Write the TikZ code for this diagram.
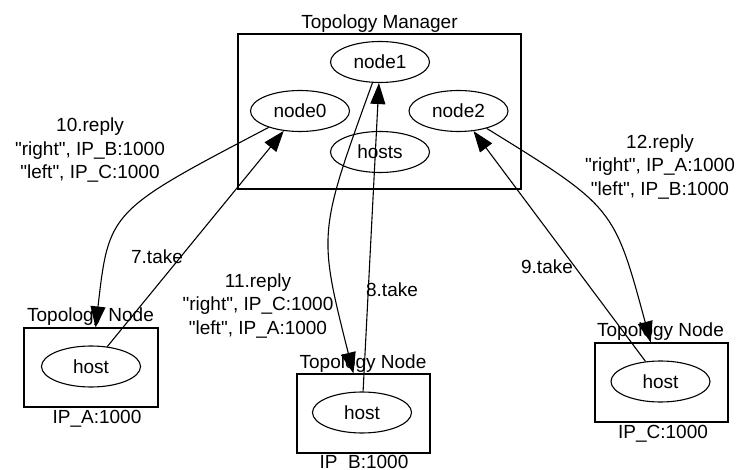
\documentclass[tikz,border=0pt]{standalone}
\usepackage{fontspec}
\setmainfont{Liberation Sans}
\usetikzlibrary{shapes.geometric,arrows.meta}
\newcommand{\qq}{\textquotedbl}
\begin{document}
\begin{tikzpicture}[x=1pt,y=-1pt,
  every node/.style={font=\fontsize{19}{23.5}\selectfont, inner sep=0pt},
  ell/.style={draw, ellipse, line width=1.1pt, minimum width=99pt, minimum height=41pt, text height=13.6pt, text depth=0pt},
  cluster/.style={draw, rectangle, line width=1.1pt},
  lbl/.style={anchor=base},
  mlbl/.style={align=center},
  arr/.style={line width=1.1pt, -{Triangle[length=21pt,width=15pt]}}
]
\useasboundingbox (0,0) rectangle (739,470);

% Topology Manager cluster
\node[cluster, minimum width=283pt, minimum height=155pt] (mgr) at (379.5,111.5) {};
\node[lbl] (mgrlbl) at (379.5,28.6) {Topology Manager};
\node[ell] (node1) at (380,62) {node1};
\node[ell] (node0) at (300,111) {node0};
\node[ell] (hosts) at (380,152) {hosts};
\node[ell] (node2) at (458.5,111) {node2};

% Topology Node A
\node[cluster, minimum width=134pt, minimum height=79pt] (boxA) at (91,367.5) {};
\node[lbl] (boxAlbl) at (90.5,322) {Topology Node};
\node[ell] (hostA) at (91,366.5) {host};
\node[lbl] (ipA) at (97,423) {IP\_A:1000};

% Topology Node B
\node[cluster, minimum width=133pt, minimum height=79pt] (boxB) at (363.5,413.5) {};
\node[lbl] (boxBlbl) at (363,368) {Topology Node};
\node[ell] (hostB) at (362,412.5) {host};
\node[lbl] (ipB) at (364,468.6) {IP\_B:1000};

% Topology Node C
\node[cluster, minimum width=133pt, minimum height=79pt] (boxC) at (661.5,382.5) {};
\node[lbl] (boxClbl) at (660.5,337) {Topology Node};
\node[ell] (hostC) at (660.5,381.5) {host};
\node[lbl] (ipC) at (663,438) {IP\_C:1000};

% edges: take
\draw[arr] (hostA) -- (node0);
\draw[arr] (hostB) -- (node1);
\draw[arr] (hostC) -- (node2);
\node[lbl] (l7) at (157,264) {7.take};
\node[lbl] (l8) at (392,297) {8.take};
\node[lbl] (l9) at (547,274) {9.take};

% edges: reply
\draw[arr] (node0) .. controls (109,211) .. (boxA);
\draw[arr] (node1) .. controls (318,233) .. (boxB);
\draw[arr] (node2) .. controls (614,207) .. (boxC);
\node[mlbl] (l10) at (90,150.5) {10.reply\\\qq right\qq, IP\_B:1000\\\qq left\qq, IP\_C:1000};
\node[mlbl] (l11) at (258,306) {11.reply\\\qq right\qq, IP\_C:1000\\\qq left\qq, IP\_A:1000};
\node[mlbl] (l12) at (660,167) {12.reply\\\qq right\qq, IP\_A:1000\\\qq left\qq, IP\_B:1000};
\end{tikzpicture}
\end{document}
